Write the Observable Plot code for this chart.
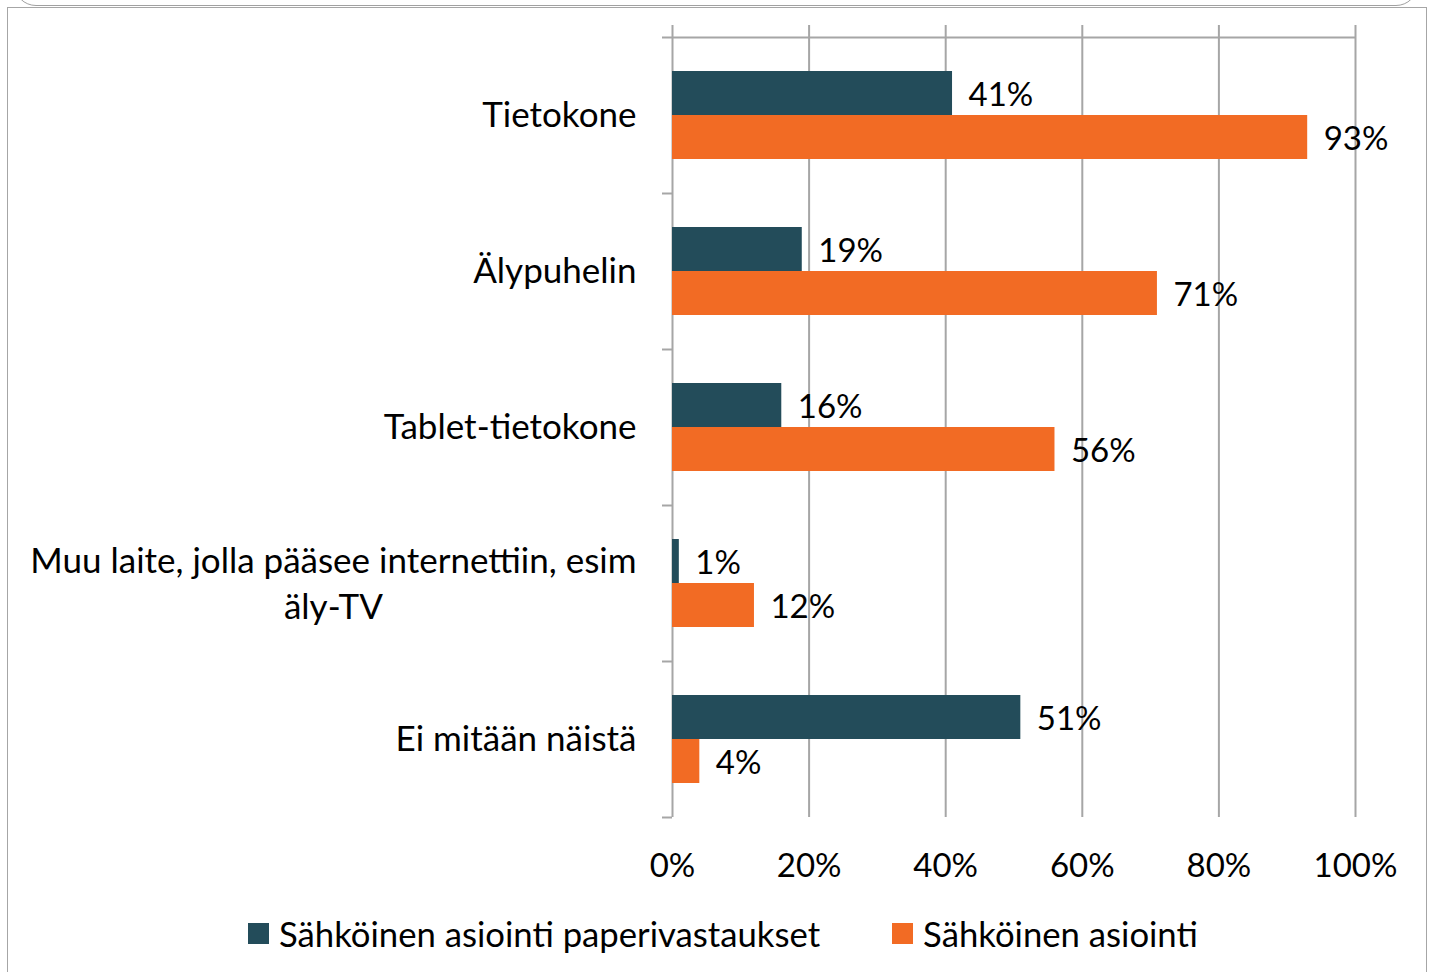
<!DOCTYPE html>
<html>
<head>
<meta charset="utf-8">
<script src="https://cdn.jsdelivr.net/npm/d3@7"></script>
<script src="https://cdn.jsdelivr.net/npm/@observablehq/plot@0.6"></script>
<style>
  html, body { margin: 0; padding: 0; background: #fff; }
  body { width: 1430px; height: 972px; position: relative; overflow: hidden; font-family: Lato, "Open Sans", sans-serif; }
  #topbox { position: absolute; left: 14px; top: -58px; width: 1404px; height: 64px; border: 1.5px solid #a0a0a0; border-radius: 22px; box-sizing: border-box; }
  #frame { position: absolute; left: 7px; top: 7px; width: 1420px; height: 1000px; border: 1.5px solid #a6a6a6; box-sizing: border-box; }
  #chart { position: absolute; left: 0; top: 0; }
  #legend { position: absolute; left: 248px; top: 913px; height: 40px; display: flex; align-items: center; font-size: 34.7px; color: #000; white-space: nowrap; }
  .item { display: flex; align-items: center; margin-right: 72px; }
  .sw { width: 21px; height: 21px; margin-right: 10px; }
</style>
</head>
<body>
<div id="topbox"></div>
<div id="frame"></div>
<div id="chart"></div>
<div id="legend"></div>
<script>
const categories = ["Tietokone", "Älypuhelin", "Tablet-tietokone", "Muu laite, jolla pääsee internettiin, esim\näly-TV", "Ei mitään näistä"];
const paperValues = [0.41, 0.19, 0.16, 0.01, 0.51];
const onlineValues = [0.93, 0.71, 0.56, 0.12, 0.04];
const seriesNames = ["Sähköinen asiointi paperivastaukset", "Sähköinen asiointi"];
const seriesColors = ["#234C5A", "#F26B24"];
const xTicks = [0, 0.2, 0.4, 0.6, 0.8, 1.0];

const paperData = categories.map((c, i) => ({category: c, value: paperValues[i]}));
const onlineData = categories.map((c, i) => ({category: c, value: onlineValues[i]}));

const W = 1430, H = 890;
const mTop = 25, mBottom = 73, mLeft = 672, mRight = 75, yInsetTop = 12;
const step = (H - mBottom - mTop - yInsetTop) / categories.length;
const half = step / 2;
const barH = 44;
const tickLen = 10 / (W - mLeft - mRight);
const labelSize = 35;
const numSize = 33;
const fontFamily = "Lato";
const gridColor = "#a6a6a6";

// measure multi-line label widths to center its lines within a right-aligned block
const ctx = document.createElement("canvas").getContext("2d");
ctx.font = `${labelSize}px ${fontFamily}`;
const labelPad = 36;
const single = categories.filter(c => !c.includes("\n"));
const multi = categories.filter(c => c.includes("\n"));
const multiW = multi.map(c => d3.max(c.split("\n"), l => ctx.measureText(l).width));

const chart = Plot.plot({
  width: W,
  height: H,
  marginTop: mTop,
  marginBottom: mBottom,
  marginLeft: mLeft,
  marginRight: mRight,
  style: {fontFamily, fontSize: numSize + "px", color: "#000", background: "transparent", overflow: "visible"},
  x: {domain: [0, 1], label: null},
  y: {domain: categories, padding: 0, insetTop: yInsetTop, axis: null},
  marks: [
    Plot.ruleX(xTicks, {stroke: gridColor, strokeWidth: 2}),
    Plot.ruleY([categories[0]], {y: d => d, dy: -half, x1: -tickLen, x2: 1, stroke: gridColor, strokeWidth: 2}),
    Plot.ruleY(categories, {y: d => d, dy: half, x1: -tickLen, x2: 0, stroke: gridColor, strokeWidth: 2}),
    Plot.barX(paperData, {x: "value", y: "category", fill: seriesColors[0], insetTop: half - barH, insetBottom: half}),
    Plot.barX(onlineData, {x: "value", y: "category", fill: seriesColors[1], insetTop: half, insetBottom: half - barH}),
    Plot.text(paperData, {x: "value", y: "category", text: d => d3.format(".0%")(d.value), textAnchor: "start", dx: 16, dy: -barH / 2 + 2, fill: "#000", fontSize: numSize}),
    Plot.text(onlineData, {x: "value", y: "category", text: d => d3.format(".0%")(d.value), textAnchor: "start", dx: 16, dy: barH / 2 + 2, fill: "#000", fontSize: numSize}),
    Plot.text(single, {y: d => d, text: d => d, frameAnchor: "left", textAnchor: "end", dx: -labelPad, fill: "#000", fontSize: labelSize}),
    ...multi.map((c, i) => Plot.text([c], {y: d => d, text: d => d, frameAnchor: "left", textAnchor: "middle", lineHeight: 1.3, dx: -(labelPad + multiW[i] / 2), dy: -2, fill: "#000", fontSize: labelSize})),
    Plot.axisX(xTicks, {tickFormat: d3.format(".0%"), tickSize: 0, tickPadding: 36, fontSize: numSize, label: null})
  ]
});
document.getElementById("chart").appendChild(chart);

const legend = document.getElementById("legend");
seriesNames.forEach((name, i) => {
  const item = document.createElement("div");
  item.className = "item";
  const sw = document.createElement("div");
  sw.className = "sw";
  sw.style.background = seriesColors[i];
  const label = document.createElement("span");
  label.textContent = name;
  item.appendChild(sw);
  item.appendChild(label);
  legend.appendChild(item);
});
</script>
</body>
</html>
